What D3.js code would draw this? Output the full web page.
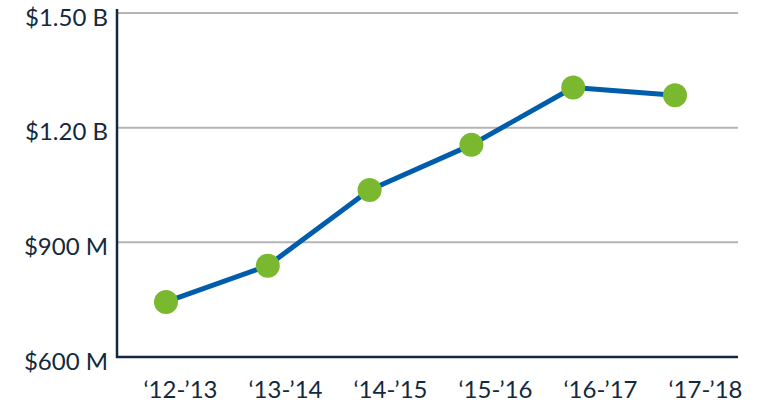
<!DOCTYPE html>
<html><head><meta charset="utf-8">
<script src="https://cdn.jsdelivr.net/npm/d3@7"></script>
<style>body{margin:0;background:#fff}svg{display:block}</style>
</head><body><svg id="c" width="759" height="407"></svg>
<script>
const categories = ["‘12-’13","‘13-’14","‘14-’15","‘15-’16","‘16-’17","‘17-’18"];
const values = [744, 839, 1037, 1155, 1305, 1285]; // $ millions
const yTicks = [600, 900, 1200, 1500];
const yTickLabels = ["$600 M","$900 M","$1.20 B","$1.50 B"];

(function () {
const svg = d3.select("#c");
const mLeft = 117, mRight = 738, mTop = 13, mBottom = 357;
const x = d3.scalePoint().domain(categories).range([166, 675]);
const xLabel = d3.scalePoint().domain(categories).range([180, 705]);
const y = d3.scaleLinear().domain([600, 1500]).range([mBottom, mTop]);
const navy = "#13293d", font = "Lato, 'Noto Sans', sans-serif";

// gridlines
svg.append("g").selectAll("line").data(yTicks.slice(1)).join("line")
  .attr("x1", mLeft).attr("x2", mRight).attr("y1", d => y(d)).attr("y2", d => y(d))
  .attr("stroke", "#b5b5b5").attr("stroke-width", 2);

// y labels
const yAxis = d3.axisLeft(y).tickValues(yTicks).tickSize(0).tickPadding(9)
  .tickFormat((d, i) => yTickLabels[i]);
const gy = svg.append("g").attr("transform", `translate(${mLeft},0)`).call(yAxis);
gy.select(".domain").remove();
gy.selectAll("text").attr("font-family", font).attr("font-size", 24).attr("fill", navy)
  .attr("dy", "0.5em");

const xAxis = d3.axisBottom(xLabel).tickSize(0).tickPadding(24);
const gx = svg.append("g").attr("transform", `translate(0,${mBottom})`).call(xAxis);
gx.select(".domain").remove();
gx.selectAll("text").attr("font-family", font).attr("font-size", 24).attr("fill", navy);

// axis lines
svg.append("line").attr("x1", mLeft).attr("x2", mLeft).attr("y1", 9).attr("y2", mBottom + 1)
  .attr("stroke", navy).attr("stroke-width", 2.5);
svg.append("line").attr("x1", mLeft - 1).attr("x2", mRight).attr("y1", mBottom).attr("y2", mBottom)
  .attr("stroke", navy).attr("stroke-width", 2.5);

const line = d3.line().x((d, i) => x(categories[i])).y(d => y(d));
svg.append("path").datum(values).attr("d", line).attr("fill", "none")
  .attr("stroke", "#005dab").attr("stroke-width", 5).attr("stroke-linejoin", "round");
svg.append("g").selectAll("circle").data(values).join("circle")
  .attr("cx", (d, i) => x(categories[i])).attr("cy", d => y(d)).attr("r", 12)
  .attr("fill", "#7ab830");
})();
</script></body></html>
